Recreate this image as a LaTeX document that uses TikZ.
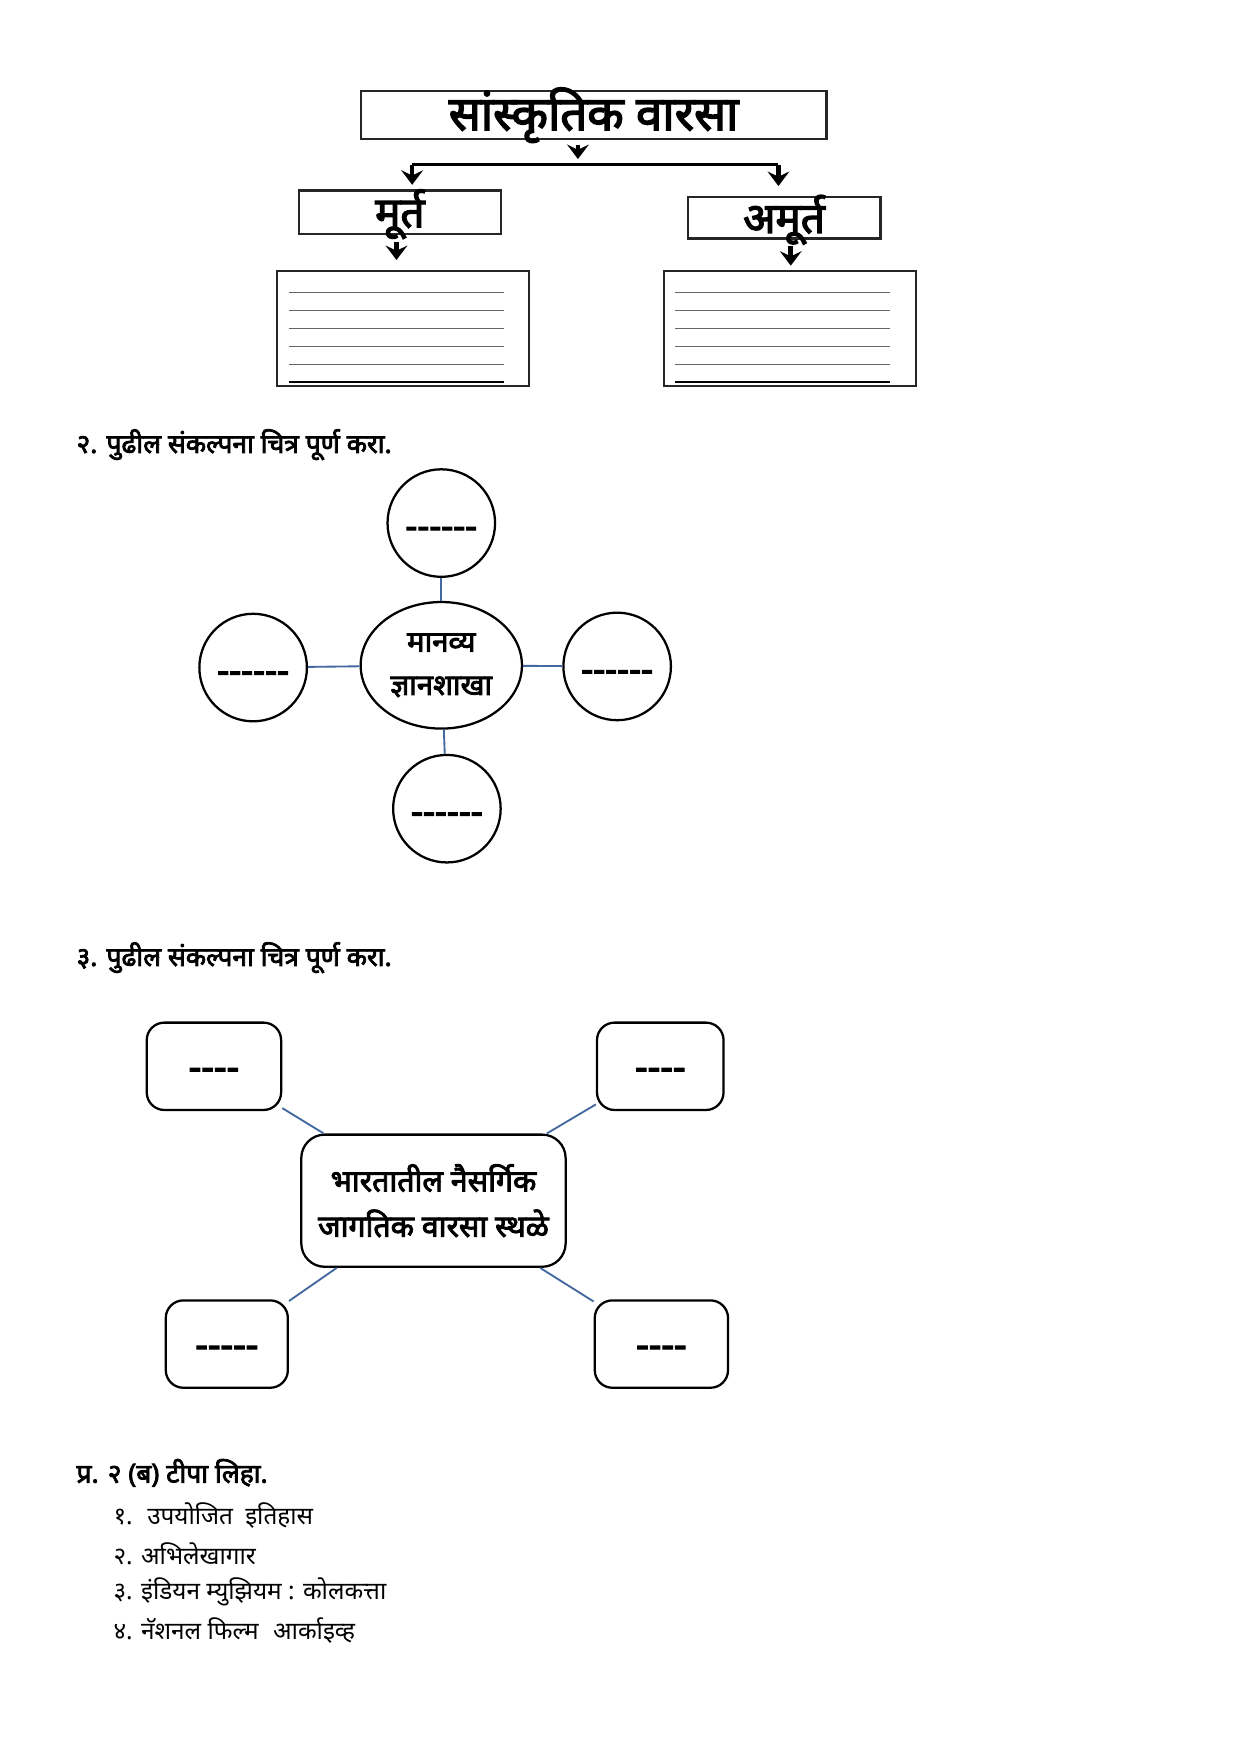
\documentclass[tikz,border=0pt]{standalone}
\usepackage{fontspec}
\setmainfont[Script=Devanagari, Ligatures=TeXOff, AutoFakeBold=3]{Noto Sans}
\usetikzlibrary{shapes.geometric,arrows.meta}
\newdimen\pxu \pxu=0.1909mm
\definecolor{connc}{RGB}{68,104,160}
\begin{document}
\begin{tikzpicture}[x=0.1909mm,y=-0.1909mm,
  sbox/.style={draw=black!85, line width=1.1pt, inner sep=0pt},
  lbox/.style={draw=black!85, line width=0.9pt, inner sep=0pt, minimum width=225\pxu, minimum height=103\pxu},
  harr/.style={line width=2.2pt, -{Stealth[length=7pt,width=10.5pt,inset=2.5pt]}},
  circ/.style={draw, circle, line width=1.1pt, minimum size=96\pxu, inner sep=0pt, text height=15pt, text depth=0pt, font=\bfseries\fontsize{18}{20}\selectfont},
  conn/.style={draw=connc, line width=0.9pt},
  rbox/.style={draw, line width=1.1pt, rounded corners=3mm, inner sep=0pt, font=\bfseries\fontsize{19}{21}\selectfont},
  dbox/.style={rbox, text height=13.6pt, text depth=0pt, minimum height=78\pxu},
  head/.style={anchor=west, inner sep=0pt, font=\bfseries\fontsize{12.8}{15}\selectfont},
  itm/.style={anchor=west, inner sep=0pt, font=\fontsize{11.8}{14}\selectfont},
  rule/.style={draw=black!60, line width=0.5pt}
]
\useasboundingbox (0,0) rectangle (1108,1566);
\fill[white] (0,0) rectangle (1108,1566);

% ---- section 1
\node[sbox, minimum width=416\pxu, text height=19.1pt, text depth=4.3pt, font=\bfseries\fontsize{23}{25}\selectfont] (top) at (530,102.5) {सांस्कृतिक वारसा};
\node[sbox, minimum width=180\pxu, text height=17.9pt, text depth=3.3pt, font=\bfseries\fontsize{20.5}{22}\selectfont] (mu) at (357,189.5) {मूर्त};
\node[sbox, minimum width=172\pxu, text height=17.3pt, text depth=2.7pt, font=\bfseries\fontsize{20.5}{22}\selectfont] (am) at (700,194.5) {अमूर्त};
\node[lbox] (lb) at (359.5,293.5) {};
\node[lbox] (rb) at (705,293.5) {};
\coordinate (jl) at (368,147);
\coordinate (jc) at (516,147);
\coordinate (jr) at (695,147);
\coordinate (al) at (354,0);
\coordinate (ar) at (706,0);
\draw[line width=1.2pt] (jl) -- (jr);
\draw[harr] ([yshift=-4\pxu]top.south -| jc) -- ([yshift=5\pxu]jc);
\draw[harr, shorten >=4\pxu] (jl) -- (jl |- mu.north);
\draw[harr, shorten >=9\pxu] (jr) -- (jr |- am.north);
\draw[harr, shorten <=6\pxu, shorten >=9\pxu] (mu.south -| al) -- (lb.north -| al);
\draw[harr, shorten <=6\pxu, shorten >=4\pxu] (am.south -| ar) -- (rb.north -| ar);
\foreach \yy in {261,277,293,309,325} {
  \draw[rule] (258,\yy) -- (450,\yy);
  \draw[rule] (603,\yy) -- (795,\yy);
}
\draw[line width=0.9pt] (258,341) -- (450,341);
\draw[line width=0.9pt] (603,341) -- (795,341);

% ---- section 2
\node[head] (h2) at (68,397) {२. पुढील संकल्पना चित्र पूर्ण करा.};
\node[draw, ellipse, line width=1.1pt, minimum width=144\pxu, minimum height=113\pxu, inner sep=0pt, align=center, font=\bfseries\fontsize{14.2}{21}\selectfont] (mc) at (394,594) {मानव्य\\ज्ञानशाखा};
\node[circ] (ct) at (394,467) {------};
\node[circ] (cl) at (226,596) {------};
\node[circ] (cr) at (551,595) {------};
\node[circ] (cb) at (399,722) {------};
\draw[conn] (mc) -- (ct);
\draw[conn] (mc) -- (cl);
\draw[conn] (mc) -- (cr);
\draw[conn] (mc) -- (cb);

% ---- section 3
\node[head] (h3) at (68,855) {३. पुढील संकल्पना चित्र पूर्ण करा.};
\node[rbox, minimum width=236\pxu, minimum height=118\pxu, rounded corners=4mm, align=center, font=\bfseries\fontsize{14.7}{22}\selectfont] (bc) at (387,1072) {भारतातील नैसर्गिक\\जागतिक वारसा स्थळे};
\node[dbox, minimum width=120\pxu] (btl) at (191,952) {----};
\node[dbox, minimum width=113\pxu] (btr) at (589.5,952) {----};
\node[dbox, minimum width=109\pxu] (bbl) at (202.5,1200) {-----};
\node[dbox, minimum width=119\pxu] (bbr) at (590.5,1200) {----};
\draw[conn] (bc) -- (btl);
\draw[conn] (bc) -- (btr);
\draw[conn] (bc) -- (bbl);
\draw[conn] (bc) -- (bbr);

% ---- section 4
\node[head] (h4) at (68,1315) {प्र. २ (ब) टीपा लिहा.};
\node[itm] (i1) at (101,1353) {१.\hspace{0.6em}उपयोजित\hspace{0.5em}इतिहास};
\node[itm] (i2) at (101,1387) {२. अभिलेखागार};
\node[itm] (i3) at (101,1421) {३. इंडियन म्युझियम : कोलकत्ता};
\node[itm] (i4) at (101,1456) {४. नॅशनल फिल्म\hspace{0.6em}आर्काइव्ह};
\end{tikzpicture}
\end{document}
